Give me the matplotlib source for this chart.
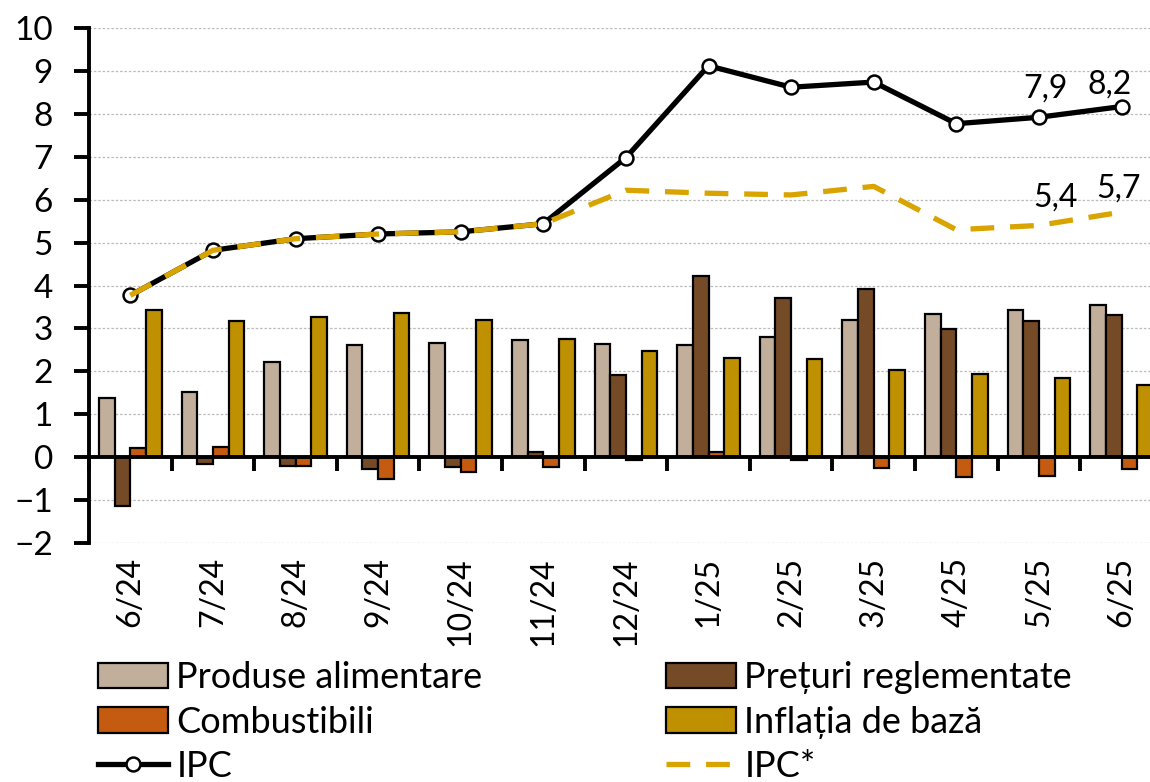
import numpy as np
import matplotlib.pyplot as plt
from matplotlib.ticker import MultipleLocator

plt.rcParams['font.family'] = ['Lato', 'DejaVu Sans']

luni = ['6/24', '7/24', '8/24', '9/24', '10/24', '11/24', '12/24',
        '1/25', '2/25', '3/25', '4/25', '5/25', '6/25']

produse_alim = [1.39, 1.53, 2.21, 2.62, 2.65, 2.74, 2.64, 2.62, 2.79, 3.19, 3.34, 3.44, 3.55]
preturi_regl = [-1.14, -0.15, -0.20, -0.27, -0.23, 0.12, 1.92, 4.21, 3.70, 3.92, 2.99, 3.18, 3.31]
combustibili = [0.22, 0.23, -0.20, -0.50, -0.35, -0.22, -0.06, 0.12, -0.06, -0.25, -0.46, -0.45, -0.28]
inflatia_baza = [3.42, 3.17, 3.26, 3.36, 3.20, 2.76, 2.47, 2.30, 2.28, 2.04, 1.93, 1.85, 1.67]

ipc = [3.77, 4.82, 5.09, 5.20, 5.25, 5.44, 6.98, 9.12, 8.62, 8.74, 7.77, 7.92, 8.17]
ipc_stea = [3.77, 4.82, 5.09, 5.20, 5.25, 5.44, 6.22, 6.15, 6.11, 6.31, 5.30, 5.40, 5.71]

# etichete: (index, text, deplasare in pixeli)
etichete_ipc = [(11, '7,9', (7, 20)), (12, '8,2', (-12, 13))]
etichete_stea = [(11, '5,4', (17, 19)), (12, '5,7', (-3, 15))]

c_alim = '#C1AF9B'
c_regl = '#754A27'
c_comb = '#C55A11'
c_baza = '#BF9000'
c_stea = '#D9A300'

fig = plt.figure(figsize=(11.5, 7.82), dpi=100)
ax = fig.add_axes([89/1150, 1 - 543/782, 1 - 89/1150, (543 - 28)/782])

x = np.arange(len(luni))
w = 0.19
kw = dict(width=w, edgecolor='black', linewidth=1.6, zorder=3)
b1 = ax.bar(x - 1.5*w, produse_alim, color=c_alim, label='Produse alimentare', **kw)
b2 = ax.bar(x - 0.5*w, preturi_regl, color=c_regl, label='Prețuri reglementate', **kw)
b3 = ax.bar(x + 0.5*w, combustibili, color=c_comb, label='Combustibili', **kw)
b4 = ax.bar(x + 1.5*w, inflatia_baza, color=c_baza, label='Inflația de bază', **kw)

l1, = ax.plot(x, ipc, color='black', lw=3.8, marker='o', ms=10,
              mfc='white', mec='black', mew=1.8, zorder=5, label='IPC')
l2, = ax.plot(x, ipc_stea, color=c_stea, lw=3.8, dashes=(4.5, 3.0),
              zorder=6, label='IPC*')

for i, t, off in etichete_ipc:
    ax.annotate(t, (x[i], ipc[i]), xytext=off, textcoords='offset pixels',
                ha='center', va='baseline', fontsize=23, zorder=7)
for i, t, off in etichete_stea:
    ax.annotate(t, (x[i], ipc_stea[i]), xytext=off, textcoords='offset pixels',
                ha='center', va='baseline', fontsize=23, zorder=7)

ax.yaxis.set_major_locator(MultipleLocator(1))
ax.grid(axis='y', color='#BBBBBB', linestyle=(0, (2, 1.5)), linewidth=0.9, zorder=0)

for s in ['top', 'right']:
    ax.spines[s].set_visible(False)
ax.spines['left'].set_linewidth(2.8)
ax.spines['bottom'].set_position(('data', 0))
ax.spines['bottom'].set_linewidth(2.8)
ax.spines['bottom'].set_zorder(4)

ax.set_xticks(x)
ax.set_xticklabels(luni, rotation=90, va='top', ha='center')
ax.set_xticks(np.append(x - 0.5, x[-1] + 0.5), minor=True)
ax.tick_params(axis='x', which='major', length=0, pad=72, labelsize=23)
ax.tick_params(axis='x', which='minor', length=10, width=2.8, direction='out')
ax.tick_params(axis='y', length=11, width=2.8, pad=15, labelsize=24)

ax.set_ylim(-2, 10)
ax.set_xlim(-0.5, 12.345)

leg_kw = dict(loc='upper left', ncol=1, frameon=False, fontsize=26,
              handlelength=1.95, handletextpad=0.22, labelspacing=0.32,
              borderpad=0, borderaxespad=0)
st = [b1, b3, l1]
dr = [b2, b4, l2]
fig.legend(handles=st, labels=[h.get_label() for h in st],
           bbox_to_anchor=(98/1150, 1 - 661/782), **leg_kw)
fig.legend(handles=dr, labels=[h.get_label() for h in dr],
           bbox_to_anchor=(666/1150, 1 - 661/782), **leg_kw)

fig.savefig('out.png', dpi=100)
